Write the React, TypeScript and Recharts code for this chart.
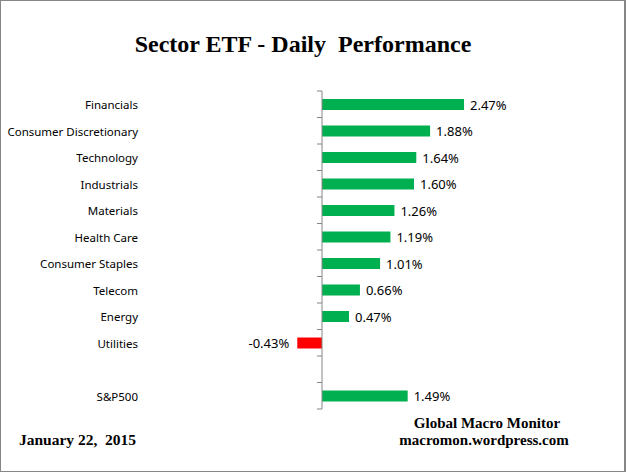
import React from "react";
import { BarChart, Bar, XAxis, YAxis, Cell, LabelList, ReferenceLine } from "recharts";

document.body.style.margin = "0";

const sectors = [
  "Financials",
  "Consumer Discretionary",
  "Technology",
  "Industrials",
  "Materials",
  "Health Care",
  "Consumer Staples",
  "Telecom",
  "Energy",
  "Utilities",
  "",
  "S&P500",
];
const changes: (number | null)[] = [2.47, 1.88, 1.64, 1.6, 1.26, 1.19, 1.01, 0.66, 0.47, -0.43, null, 1.49];

const X_MIN = -0.5;
const X_MAX = 3;
const W = 626;
const H = 472;
const Y_AXIS_W = 20;
const PLOT_LEFT = 293.25;
const PLOT_WIDTH = 201.25;
const PLOT_TOP = 91;
const PLOT_BOTTOM = 63;
const ZERO_X = PLOT_LEFT + ((0 - X_MIN) / (X_MAX - X_MIN)) * PLOT_WIDTH;
const BAND = (H - PLOT_TOP - PLOT_BOTTOM) / sectors.length;

const AXIS_GRAY = "#868686";
const SANS = "'Noto Sans', sans-serif";
const SERIF = "'Liberation Serif', 'Times New Roman', serif";

const data = sectors.map((name, i) => ({ name, value: changes[i] }));

function SectorTick(props: any) {
  const { y, payload, index } = props;
  const top = y - BAND / 2;
  return (
    <g>
      <line x1={ZERO_X - 5} x2={ZERO_X} y1={top} y2={top} stroke={AXIS_GRAY} />
      {index === sectors.length - 1 && (
        <line x1={ZERO_X - 5} x2={ZERO_X} y1={top + BAND} y2={top + BAND} stroke={AXIS_GRAY} />
      )}
      <text x={ZERO_X - 184} y={y} dy={5} textAnchor="end" fontSize={11.5} fontFamily={SANS} fill="#000">
        {payload.value}
      </text>
    </g>
  );
}

function ValueLabel(props: any) {
  const { x, y, width, height, value } = props;
  if (value == null) return null;
  const neg = value < 0;
  const end = x + width;
  const lx = neg ? Math.min(x, end) - 8 : Math.max(x, end) + 6;
  return (
    <text
      x={lx}
      y={y + height / 2}
      dy={5}
      textAnchor={neg ? "end" : "start"}
      fontSize={13}
      fontFamily={SANS}
      fill="#000"
    >
      {value.toFixed(2)}%
    </text>
  );
}

export default function App() {
  return (
    <div
      style={{
        position: "relative",
        width: W,
        height: H,
        boxSizing: "border-box",
        border: `1px solid ${AXIS_GRAY}`,
        borderRightWidth: 2,
        background: "#fff",
      }}
    >
      <div style={{ position: "absolute", left: -1, top: -1 }}>
        <BarChart
          width={W}
          height={H}
          data={data}
          layout="vertical"
          margin={{
            top: PLOT_TOP,
            right: W - PLOT_LEFT - PLOT_WIDTH,
            bottom: PLOT_BOTTOM,
            left: PLOT_LEFT - Y_AXIS_W,
          }}
        >
          <text
            x={303}
            y={52}
            textAnchor="middle"
            fontFamily={SERIF}
            fontWeight="bold"
            fontSize={24}
            fill="#000"
            style={{ whiteSpace: "pre" }}
          >
            {"Sector ETF - Daily  Performance"}
          </text>
          <XAxis type="number" domain={[X_MIN, X_MAX]} hide />
          <YAxis
            type="category"
            dataKey="name"
            width={Y_AXIS_W}
            axisLine={false}
            tickLine={false}
            tick={(p: any) => <SectorTick {...p} />}
            interval={0}
          />
          <ReferenceLine x={0} stroke={AXIS_GRAY} strokeWidth={1} />
          <Bar dataKey="value" barSize={11} isAnimationActive={false}>
            {data.map((d, i) => (
              <Cell key={i} fill={d.value != null && d.value < 0 ? "#FF0000" : "#00B050"} />
            ))}
            <LabelList dataKey="value" content={(p: any) => <ValueLabel {...p} />} />
          </Bar>
          <text x={487} y={428} textAnchor="middle" fontFamily={SERIF} fontWeight="bold" fontSize={15} fill="#000">
            Global Macro Monitor
          </text>
          <text x={484} y={445} textAnchor="middle" fontFamily={SERIF} fontWeight="bold" fontSize={15} fill="#000">
            macromon.wordpress.com
          </text>
          <text x={19} y={445} fontFamily={SERIF} fontWeight="bold" fontSize={15.5} fill="#000" style={{ whiteSpace: "pre" }}>
            {"January 22,  2015"}
          </text>
        </BarChart>
      </div>
    </div>
  );
}
